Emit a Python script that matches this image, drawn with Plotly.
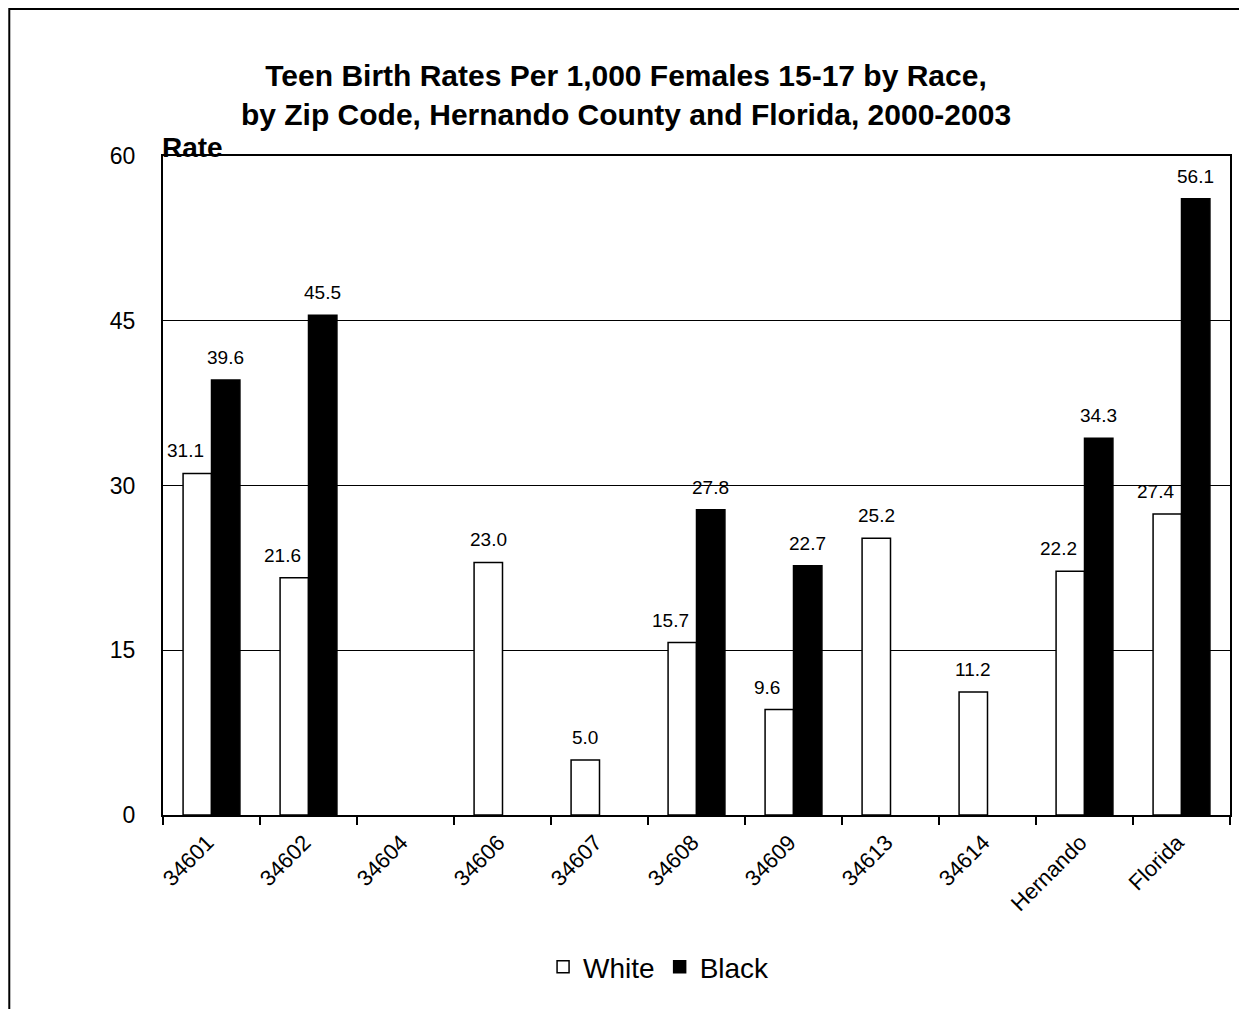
import plotly.graph_objects as go

categories = ["34601", "34602", "34604", "34606", "34607", "34608", "34609",
              "34613", "34614", "Hernando", "Florida"]
white = [31.1, 21.6, None, 23.0, 5.0, 15.7, 9.6, 25.2, 11.2, 22.2, 27.4]
black = [39.6, 45.5, None, None, None, 27.8, 22.7, None, None, 34.3, 56.1]
y_ticks = [0, 15, 30, 45, 60]

# page body has an 8px margin; figure sized to fit inside the window
OFF = 8
W, H = 1231, 1001
ML, MR, MT, MB = 155, 7, 148, 194
PW, PH = W - ML - MR, H - MT - MB
FONT = "Liberation Sans, Arial, sans-serif"

fig = go.Figure()
fig.add_trace(go.Bar(name="White", x=categories, y=white,
                     marker=dict(color="white", line=dict(color="black", width=1.5))))
fig.add_trace(go.Bar(name="Black", x=categories, y=black,
                     marker=dict(color="black", line=dict(color="black", width=1.5))))

bargap = 0.414
cat_px = PW / len(categories)
half_bar = cat_px * (1 - bargap) / 4

annotations = []
for i, (w, b) in enumerate(zip(white, black)):
    if w is not None:
        shift = -half_bar - (12 if b is not None else 0)
        annotations.append(dict(x=i, y=w, xref="x", yref="y", text=f"{w:.1f}", showarrow=False,
                                xanchor="center", yanchor="bottom", xshift=shift, yshift=10,
                                font=dict(family=FONT, size=19, color="black")))
    if b is not None:
        annotations.append(dict(x=i, y=b, xref="x", yref="y", text=f"{b:.1f}", showarrow=False,
                                xanchor="center", yanchor="bottom", xshift=half_bar, yshift=10,
                                font=dict(family=FONT, size=19, color="black")))

annotations.append(dict(x=0, y=1, xref="paper", yref="paper", text="<b>Rate</b>",
                        showarrow=False, xanchor="left", yanchor="middle", xshift=-3, yshift=9,
                        font=dict(family=FONT, size=28, color="black")))


def px_x(p):
    return (p - OFF - ML) / PW


def px_y(p):
    return (H - MB - (p - OFF)) / PH


shapes = [dict(type="rect", xref="paper", yref="paper",
               x0=px_x(9), x1=px_x(1280), y0=px_y(1040), y1=px_y(9),
               line=dict(color="black", width=2), fillcolor="rgba(0,0,0,0)", layer="below")]

fig.update_layout(
    width=W, height=H,
    margin=dict(l=ML, r=MR, t=MT, b=MB),
    paper_bgcolor="white", plot_bgcolor="white",
    barmode="group", bargap=bargap, bargroupgap=0,
    title=dict(text="<b>Teen Birth Rates Per 1,000 Females 15-17 by Race,<br>by Zip Code, Hernando County and Florida, 2000-2003</b>",
               x=(626 - OFF) / W, xanchor="center", xref="container", y=1 - 78 / H, yanchor="middle",
               font=dict(family=FONT, size=30, color="black")),
    font=dict(family=FONT, color="black"),
    showlegend=True,
    legend=dict(orientation="h", x=px_x(660), xanchor="center", y=px_y(967), yanchor="middle",
                font=dict(family=FONT, size=28, color="black"), itemwidth=30,
                bgcolor="rgba(0,0,0,0)"),
    annotations=annotations,
    shapes=shapes,
)
fig.update_xaxes(type="category", range=[-0.5, len(categories) - 0.5],
                 showline=True, linecolor="black", linewidth=2, mirror=True,
                 ticks="outside", tickson="boundaries", ticklen=8, tickcolor="black", tickwidth=1.5,
                 tickangle=-45, tickfont=dict(family=FONT, size=22, color="black"),
                 ticklabelstandoff=4, ticklabelshift=-4,
                 showgrid=False)
fig.update_yaxes(range=[0, 60], tickvals=y_ticks, showline=True, linecolor="black", linewidth=2,
                 mirror=True, ticks="", showgrid=True, gridcolor="black", gridwidth=1,
                 zeroline=False, ticklabelstandoff=21,
                 tickfont=dict(family=FONT, size=23, color="black"))

fig.write_html("out.html")
